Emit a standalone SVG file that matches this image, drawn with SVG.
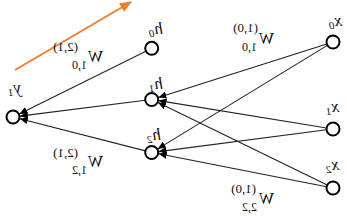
<svg xmlns="http://www.w3.org/2000/svg" width="347" height="216" viewBox="0 0 347 216">
<style>
.node{fill:#fff;stroke:#000;stroke-width:2}
.edge{stroke:#222;stroke-width:1.1;fill:none}
.nl{font-family:"Liberation Serif",serif;font-style:italic;font-size:17px;fill:#111}
.sub{font-size:11px}
.w{font-family:"Liberation Serif",serif;font-size:16px;fill:#111}
.sup{font-family:"Liberation Serif",serif;font-size:13px;fill:#111}
.ws{font-family:"Liberation Serif",serif;font-size:12px;fill:#111}
</style>
<defs>
<marker id="ah" markerUnits="userSpaceOnUse" markerWidth="8" markerHeight="7" refX="8" refY="3.5" orient="auto"><path d="M0,0 L8,3.5 L0,7 z" fill="#000"/></marker>
<marker id="oh" markerUnits="userSpaceOnUse" markerWidth="12" markerHeight="10" refX="11" refY="5" orient="auto"><path d="M0,0 L12,5 L0,10 z" fill="#ED7D31"/></marker>
</defs>
<g id="connectors">
<line class="edge" x1="145.9" y1="51.2" x2="19.3" y2="113.9" marker-end="url(#ah)"/>
<line class="edge" x1="145.3" y1="100.3" x2="19.9" y2="116.1" marker-end="url(#ah)"/>
<line class="edge" x1="145.4" y1="150.9" x2="19.8" y2="118.7" marker-end="url(#ah)"/>
<line class="edge" x1="326.8" y1="44.0" x2="158.4" y2="97.4" marker-end="url(#ah)"/>
<line class="edge" x1="326.6" y1="128.0" x2="158.6" y2="100.6" marker-end="url(#ah)"/>
<line class="edge" x1="327.2" y1="185.1" x2="158.0" y2="102.6" marker-end="url(#ah)"/>
<line class="edge" x1="327.4" y1="45.4" x2="157.7" y2="148.9" marker-end="url(#ah)"/>
<line class="edge" x1="326.6" y1="129.8" x2="158.6" y2="151.6" marker-end="url(#ah)"/>
<line class="edge" x1="326.6" y1="186.8" x2="158.6" y2="153.8" marker-end="url(#ah)"/>
<line x1="15" y1="70" x2="131" y2="2" stroke="#ED7D31" stroke-width="2" marker-end="url(#oh)"/>
</g>
<g id="labels">
<text class="w" transform="translate(103,62) scale(-1,1)">W</text>
<text class="sup" transform="translate(78,51) scale(-1,1)">(2,1)</text>
<text class="ws" transform="translate(87,69) scale(-1,1)">1,0</text>
<text class="w" transform="translate(103,167) scale(-1,1)">W</text>
<text class="sup" transform="translate(78,157) scale(-1,1)">(2,1)</text>
<text class="ws" transform="translate(87,174) scale(-1,1)">1,2</text>
<text class="w" transform="translate(274,44) scale(-1,1)">W</text>
<text class="sup" transform="translate(258,32) scale(-1,1)">(1,0)</text>
<text class="ws" transform="translate(257,51) scale(-1,1)">1,0</text>
<text class="w" transform="translate(274,204) scale(-1,1)">W</text>
<text class="sup" transform="translate(256,193) scale(-1,1)">(1,0)</text>
<text class="ws" transform="translate(257,211) scale(-1,1)">2,2</text>
</g>
<g id="y1"><circle class="node" cx="13" cy="117" r="6.5"/><text class="nl" transform="translate(21,93) scale(-1,1)">y<tspan class="sub" dy="3">1</tspan></text></g>
<g id="h0"><circle class="node" cx="151.7" cy="48.3" r="6.5"/><text class="nl" transform="translate(163,34) scale(-1,1)">h<tspan class="sub" dy="3">0</tspan></text></g>
<g id="h1"><circle class="node" cx="151.7" cy="99.5" r="6.5"/><text class="nl" transform="translate(163,89) scale(-1,1)">h<tspan class="sub" dy="3">1</tspan></text></g>
<g id="h2"><circle class="node" cx="151.7" cy="152.5" r="6.5"/><text class="nl" transform="translate(161,140) scale(-1,1)">h<tspan class="sub" dy="3">2</tspan></text></g>
<g id="x0"><circle class="node" cx="333" cy="42" r="6.5"/><text class="nl" transform="translate(342,26) scale(-1,1)">x<tspan class="sub" dy="3">0</tspan></text></g>
<g id="x1"><circle class="node" cx="333" cy="129" r="6.5"/><text class="nl" transform="translate(339,112) scale(-1,1)">x<tspan class="sub" dy="3">1</tspan></text></g>
<g id="x2"><circle class="node" cx="333" cy="188" r="6.5"/><text class="nl" transform="translate(339,170) scale(-1,1)">x<tspan class="sub" dy="3">2</tspan></text></g>
</svg>
